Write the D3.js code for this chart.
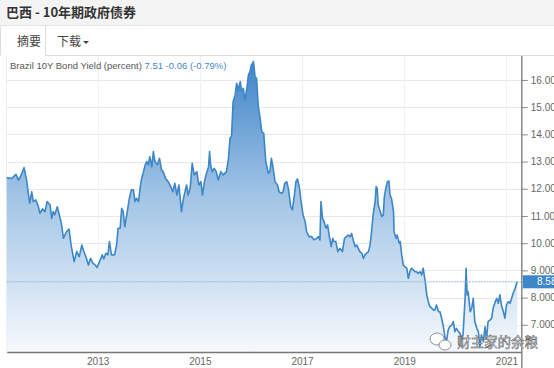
<!DOCTYPE html>
<html>
<head>
<meta charset="utf-8">
<style>
  body { margin: 0; background: #fff; }
  svg { display: block; }
</style>
</head>
<body>
<div id="chart"></div>
<script src="https://d3js.org/d3.v7.min.js"></script>
<script>
// decimal year, yield (%)
const years = [
  2011.22, 2011.32, 2011.40, 2011.45, 2011.49, 2011.56, 2011.61, 2011.64, 2011.67, 2011.71,
  2011.74, 2011.79, 2011.84, 2011.87, 2011.92, 2011.97, 2012.01, 2012.07, 2012.10, 2012.13,
  2012.16, 2012.21, 2012.25, 2012.29, 2012.33, 2012.39, 2012.44, 2012.48, 2012.54, 2012.59,
  2012.64, 2012.69, 2012.73, 2012.77, 2012.82, 2012.86, 2012.91, 2012.95, 2012.99, 2013.05,
  2013.09, 2013.12, 2013.16, 2013.20, 2013.23, 2013.27, 2013.33, 2013.37, 2013.40, 2013.44,
  2013.47, 2013.50, 2013.53, 2013.57, 2013.62, 2013.66, 2013.70, 2013.73, 2013.76, 2013.80,
  2013.83, 2013.86, 2013.89, 2013.93, 2013.96, 2013.99, 2014.02, 2014.06, 2014.09, 2014.12,
  2014.17, 2014.21, 2014.25, 2014.28, 2014.33, 2014.38, 2014.43, 2014.47, 2014.51, 2014.55,
  2014.59, 2014.64, 2014.68, 2014.71, 2014.74, 2014.77, 2014.81, 2014.85, 2014.89, 2014.94,
  2014.98, 2015.02, 2015.05, 2015.09, 2015.12, 2015.17, 2015.19, 2015.21, 2015.24, 2015.28,
  2015.32, 2015.36, 2015.41, 2015.46, 2015.52, 2015.56, 2015.59, 2015.62, 2015.65, 2015.69,
  2015.72, 2015.75, 2015.79, 2015.82, 2015.85, 2015.88, 2015.92, 2015.95, 2015.98, 2016.01,
  2016.05, 2016.08, 2016.11, 2016.14, 2016.18, 2016.21, 2016.25, 2016.29, 2016.34, 2016.37,
  2016.40, 2016.44, 2016.47, 2016.52, 2016.55, 2016.60, 2016.63, 2016.66, 2016.70, 2016.73,
  2016.78, 2016.81, 2016.85, 2016.88, 2016.91, 2016.95, 2016.98, 2017.02, 2017.06, 2017.09,
  2017.14, 2017.19, 2017.23, 2017.29, 2017.32, 2017.35, 2017.37, 2017.40, 2017.43, 2017.47,
  2017.50, 2017.53, 2017.57, 2017.60, 2017.62, 2017.66, 2017.70, 2017.74, 2017.79, 2017.83,
  2017.87, 2017.90, 2017.94, 2017.97, 2018.00, 2018.04, 2018.07, 2018.10, 2018.13, 2018.17,
  2018.20, 2018.23, 2018.26, 2018.30, 2018.33, 2018.36, 2018.39, 2018.43, 2018.45, 2018.47,
  2018.49, 2018.52, 2018.56, 2018.59, 2018.61, 2018.64, 2018.67, 2018.70, 2018.72, 2018.75,
  2018.79, 2018.80, 2018.84, 2018.86, 2018.90, 2018.92, 2018.95, 2018.98, 2019.01, 2019.05,
  2019.08, 2019.11, 2019.14, 2019.18, 2019.21, 2019.24, 2019.27, 2019.31, 2019.34, 2019.37,
  2019.41, 2019.44, 2019.47, 2019.50, 2019.54, 2019.57, 2019.60, 2019.63, 2019.67, 2019.70,
  2019.73, 2019.76, 2019.80, 2019.83, 2019.86, 2019.89, 2019.93, 2019.96, 2019.99, 2020.02,
  2020.06, 2020.09, 2020.12, 2020.15, 2020.19, 2020.21, 2020.23, 2020.25, 2020.29, 2020.32,
  2020.35, 2020.38, 2020.42, 2020.45, 2020.48, 2020.51, 2020.55, 2020.58, 2020.61, 2020.64,
  2020.68, 2020.71, 2020.74, 2020.78, 2020.81, 2020.84, 2020.87, 2020.90, 2020.94, 2020.97,
  2021.00, 2021.04, 2021.07, 2021.10, 2021.13, 2021.17, 2021.20, 2021.21
];
const yields = [
  12.41, 12.38, 12.53, 12.32, 12.45, 12.78, 12.32, 11.87, 11.47, 11.89,
  11.53, 11.59, 11.34, 11.10, 11.26, 11.16, 11.53, 11.40, 10.91, 11.16,
  11.04, 11.34, 11.04, 10.73, 10.18, 10.42, 10.52, 9.93, 9.32, 9.69,
  9.50, 9.93, 9.69, 9.50, 9.20, 9.44, 9.26, 9.20, 9.11, 9.38,
  9.57, 9.42, 9.63, 9.57, 10.06, 9.57, 9.57, 9.93, 10.55, 10.55,
  11.28, 11.16, 10.61, 11.04, 11.65, 11.96, 11.96, 11.53, 11.65, 11.53,
  12.02, 12.38, 12.57, 12.88, 13.00, 12.88, 13.18, 12.81, 13.37, 13.00,
  12.88, 13.12, 12.69, 12.63, 12.38, 12.26, 12.08, 11.89, 12.20, 11.77,
  12.14, 11.16, 11.65, 11.89, 12.14, 11.77, 12.02, 12.94, 12.51, 12.63,
  12.14, 12.26, 11.77, 12.26, 12.51, 12.81, 13.37, 12.88, 12.63, 12.75,
  12.63, 12.32, 12.63, 12.51, 12.63, 13.12, 13.86, 13.92, 15.20, 15.45,
  15.88, 15.63, 15.94, 15.57, 15.69, 15.26, 15.69, 16.18, 16.31, 16.55,
  16.67, 16.12, 16.06, 15.08, 14.59, 14.10, 14.04, 13.00, 12.57, 12.63,
  13.12, 12.69, 12.26, 12.14, 11.89, 11.83, 11.89, 12.20, 12.26, 12.02,
  11.34, 11.22, 11.77, 12.26, 12.36, 12.02, 11.53, 11.04, 10.79, 10.42,
  10.24, 10.24, 10.12, 10.18, 10.24, 10.12, 11.53, 10.91, 10.79, 10.55,
  10.67, 10.30, 9.87, 10.18, 10.06, 10.06, 9.69, 9.81, 9.69, 10.18,
  10.24, 10.30, 10.24, 10.36, 10.12, 9.87, 9.93, 9.81, 9.69, 9.63,
  9.44, 9.57, 9.63, 9.69, 9.93, 10.42, 11.04, 11.53, 12.08, 12.02,
  11.40, 11.22, 10.98, 11.04, 11.71, 12.02, 12.26, 12.29, 11.77, 11.65,
  11.16, 10.42, 10.18, 10.30, 10.00, 10.06, 9.57, 9.20, 9.14, 9.08,
  8.71, 8.95, 9.08, 9.01, 8.95, 8.95, 8.89, 8.95, 8.83, 9.08,
  8.59, 8.10, 7.85, 7.67, 7.61, 7.54, 7.54, 7.73, 7.48, 7.48,
  7.24, 6.99, 6.50, 6.44, 6.81, 6.93, 6.99, 7.12, 6.75, 6.87,
  6.75, 6.69, 6.50, 6.63, 7.97, 9.08, 8.10, 8.22, 7.48, 7.61,
  7.97, 7.12, 6.87, 6.75, 6.20, 6.63, 6.38, 6.93, 6.50, 7.12,
  7.18, 7.24, 7.61, 7.85, 7.97, 7.79, 8.10, 7.73, 7.48, 7.24,
  7.73, 7.85, 7.79, 7.97, 8.16, 8.34, 8.53, 8.58
];
const yTicks = [7, 8, 9, 10, 11, 12, 13, 14, 15, 16];
const yTickLabels = ['7.000', '8.000', '9.000', '10.00', '11.00', '12.00', '13.00', '14.00', '15.00', '16.00'];
const xTicks = [2013, 2015, 2017, 2019, 2021];
const lastValue = 8.58;

const W = 554, H = 368;
const latin = 'Liberation Sans, Arial, sans-serif';
const cjk = '"Noto Sans CJK SC", sans-serif';

const svg = d3.select('#chart').append('svg').attr('width', W).attr('height', H);

// header
svg.append('rect').attr('x', 0).attr('y', 0).attr('width', W).attr('height', 26).attr('fill', '#f4f4f4');
svg.append('line').attr('x1', 0).attr('x2', W).attr('y1', 25.5).attr('y2', 25.5).attr('stroke', '#e2e2e2');
svg.append('text').attr('x', 6).attr('y', 17).attr('font-family', cjk).attr('font-weight', 'bold')
  .attr('font-size', 13).attr('fill', '#333').text('巴西 - 10年期政府债券');

// tabs
svg.append('path').attr('d', 'M0.5,55.5 V26.5 M45.5,26 V55.5 M45.5,55.5 H554')
  .attr('fill', 'none').attr('stroke', '#dddddd');
svg.append('text').attr('x', 17).attr('y', 46).attr('font-family', cjk).attr('font-size', 12)
  .attr('fill', '#444').text('摘要');
svg.append('text').attr('x', 57).attr('y', 46).attr('font-family', cjk).attr('font-size', 12)
  .attr('fill', '#444').text('下载');
svg.append('path').attr('d', 'M83,41 h6 l-3,3 z').attr('fill', '#444');

const x = d3.scaleLinear().domain([2011.22, 2021.3]).range([6.7, 521.8]);
const y = d3.scaleLinear().domain([6, 16.88]).range([352, 56]);
const left = x.range()[0], right = x.range()[1];

const data = years.map((t, i) => ({ t, v: yields[i] }));

// gradient
const grad = svg.append('defs').append('linearGradient').attr('id', 'fill')
  .attr('gradientUnits', 'userSpaceOnUse').attr('x1', 0).attr('x2', 0).attr('y1', y(16.7)).attr('y2', y(6));
grad.append('stop').attr('offset', 0).attr('stop-color', '#3f84c9');
grad.append('stop').attr('offset', 0.45).attr('stop-color', '#9fc3e5');
grad.append('stop').attr('offset', 1).attr('stop-color', '#f6f9fd');

// grid
svg.append('g').selectAll('line').data(yTicks).join('line')
  .attr('x1', left).attr('x2', right).attr('y1', d => Math.round(y(d)) + 0.5).attr('y2', d => Math.round(y(d)) + 0.5)
  .attr('stroke', '#e9e9e9');
svg.append('g').selectAll('line').data(xTicks).join('line')
  .attr('x1', d => Math.round(x(d)) + 0.5).attr('x2', d => Math.round(x(d)) + 0.5)
  .attr('y1', 56).attr('y2', 352).attr('stroke', '#edf2f3');
svg.append('line').attr('x1', 6.5).attr('x2', 6.5).attr('y1', 56).attr('y2', 352).attr('stroke', '#eeeeee');

// area + line
svg.append('path').datum(data)
  .attr('d', d3.area().x(d => x(d.t)).y0(y(6)).y1(d => y(d.v)))
  .attr('fill', 'url(#fill)');
svg.append('path').datum(data)
  .attr('d', d3.line().x(d => x(d.t)).y(d => y(d.v)))
  .attr('fill', 'none').attr('stroke', '#3d86c8').attr('stroke-width', 1.6).attr('stroke-linejoin', 'round');

// last value line
svg.append('line').attr('x1', left).attr('x2', right).attr('y1', y(lastValue)).attr('y2', y(lastValue))
  .attr('stroke', '#8fb8e2').attr('stroke-dasharray', '2,1');

// chart caption
const cap = svg.append('text').attr('x', 10).attr('y', 69).attr('font-family', latin).attr('font-size', 9.5);
cap.append('tspan').attr('fill', '#555').text('Brazil 10Y Bond Yield (percent) ');
cap.append('tspan').attr('fill', '#4a87c9').text('7.51  -0.06 (-0.79%)');

// x axis
const xAxis = svg.append('g').attr('transform', 'translate(0,352)')
  .call(d3.axisBottom(x).tickValues(xTicks).tickFormat(d3.format('d')).tickSize(0).tickPadding(6));
xAxis.select('.domain').attr('stroke', '#777').attr('stroke-width', 1.5);
xAxis.selectAll('text').attr('font-family', latin).attr('font-size', 10).attr('fill', '#666');

// y axis (right)
const yAxis = svg.append('g').attr('transform', `translate(${right},0)`)
  .call(d3.axisRight(y).tickValues(yTicks).tickFormat((d, i) => yTickLabels[i]).tickSize(6).tickPadding(3));
yAxis.select('.domain').attr('d', 'M0,56V368').attr('stroke', '#888').attr('stroke-width', 1.5);
yAxis.selectAll('.tick line').attr('stroke', '#888');
yAxis.selectAll('text').attr('font-family', latin).attr('font-size', 10).attr('fill', '#666');

// last value label
svg.append('rect').attr('x', right + 1).attr('y', y(lastValue) - 6.5).attr('width', W - right).attr('height', 13)
  .attr('fill', '#3d86c8');
svg.append('text').attr('x', 537).attr('y', y(lastValue) + 3.5).attr('font-family', latin).attr('font-size', 10)
  .attr('fill', '#fff').text(lastValue.toFixed(2));

// watermark
const wm = svg.append('g').attr('fill', 'rgba(255,255,255,0.85)').attr('stroke', '#777').attr('stroke-width', 0.8);
wm.append('ellipse').attr('cx', 437).attr('cy', 339).attr('rx', 7).attr('ry', 6);
wm.append('ellipse').attr('cx', 445).attr('cy', 345).attr('rx', 6).attr('ry', 5);
svg.append('text').attr('x', 457).attr('y', 347).attr('font-family', cjk).attr('font-size', 13.5)
  .attr('fill', '#f2f2f2').attr('stroke', '#555').attr('stroke-width', 0.5).text('财主家的余粮');
</script>
</body>
</html>
